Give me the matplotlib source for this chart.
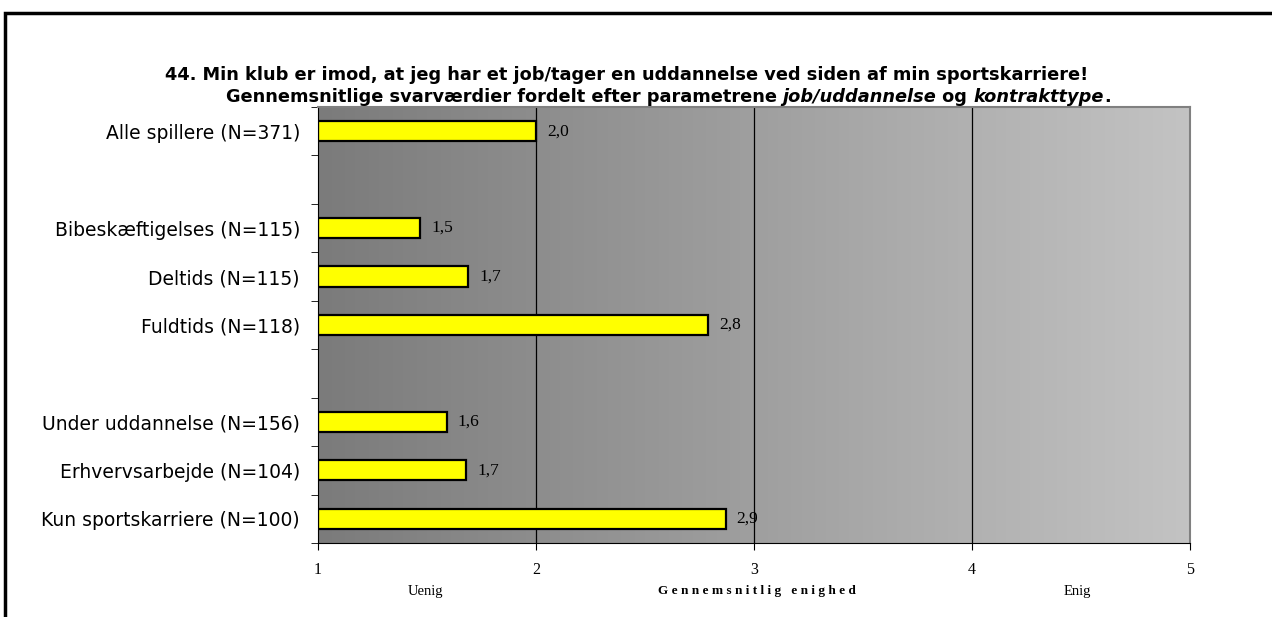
import numpy as np
import matplotlib.pyplot as plt
from matplotlib.patches import Rectangle
from matplotlib.colors import LinearSegmentedColormap

categories = ["Alle spillere (N=371)", "", "Bibeskæftigelses (N=115)", "Deltids (N=115)",
              "Fuldtids (N=118)", "", "Under uddannelse (N=156)", "Erhvervsarbejde (N=104)",
              "Kun sportskarriere (N=100)"]
values = [2.0, None, 1.47, 1.69, 2.79, None, 1.59, 1.68, 2.87]
value_labels = ["2,0", "", "1,5", "1,7", "2,8", "", "1,6", "1,7", "2,9"]
xticks = [1, 2, 3, 4, 5]

fig = plt.figure(figsize=(12.72, 6.17), dpi=100)
ax = fig.add_axes([0.25, 0.12, 0.6855, 0.7066])

# gradient background
grad = np.linspace(0, 1, 256).reshape(1, -1)
cmap = LinearSegmentedColormap.from_list('g', ['#7b7b7b', '#c3c3c3'])
ax.imshow(grad, extent=[1, 5, -0.5, len(categories) - 0.5], aspect='auto', cmap=cmap, zorder=0)
ax.set_xlim(1, 5)
ax.set_ylim(len(categories) - 0.5, -0.5)

for g in [2, 3, 4]:
    ax.axvline(g, color='black', linewidth=0.9, zorder=1)

ypos = np.arange(len(categories))
for y, v, lab in zip(ypos, values, value_labels):
    if v is None:
        continue
    ax.barh(y, v - 1, left=1, height=0.42, color='#ffff00', edgecolor='black',
            linewidth=1.6, zorder=2)
    ax.text(v + 0.05, y, lab, va='center', ha='left', fontsize=12.5,
            family='Liberation Serif', zorder=3)

# frame
for s in ['top', 'right']:
    ax.spines[s].set_color('#808080')
    ax.spines[s].set_linewidth(1.5)
ax.spines['left'].set_color('black')
ax.spines['bottom'].set_color('black')

ax.set_xticks(xticks)
ax.set_xticklabels([str(t) for t in xticks], family='Liberation Serif', fontsize=11.5)
ax.tick_params(axis='x', length=5, pad=9, direction='out')

ax.set_yticks(ypos)
ax.set_yticklabels(categories, family='DejaVu Sans', fontsize=13.5)
ax.tick_params(axis='y', length=0, pad=13)
ax.set_yticks(np.arange(-0.5, len(categories)), minor=True)
ax.tick_params(axis='y', which='minor', length=5, direction='out')

fig.text(425 / 1272, 1 - 591 / 617, "Uenig", ha='center', va='center',
         family='Liberation Serif', fontsize=10.5)
fig.text(757 / 1272, 1 - 591 / 617, "G e n n e m s n i t l i g   e n i g h e d", ha='center', va='center',
         family='Liberation Serif', fontsize=9.5, fontweight='bold')
fig.text(1077 / 1272, 1 - 591 / 617, "Enig", ha='center', va='center',
         family='Liberation Serif', fontsize=10.5)

# title
title_font = dict(family='DejaVu Sans', fontsize=12.8, fontweight='bold')
fig.text(627 / 1272, 1 - 75 / 617, "44. Min klub er imod, at jeg har et job/tager en uddannelse ved siden af min sportskarriere!",
         ha='center', va='center', **title_font)

pieces = [("Gennemsnitlige svarværdier fordelt efter parametrene ", 'normal'),
          ("job/uddannelse", 'italic'), (" og ", 'normal'), ("kontrakttype", 'italic'), (".", 'normal')]
renderer = fig.canvas.get_renderer()
texts = []
for s, st in pieces:
    t = fig.text(0, 1 - 97 / 617, s, ha='left', va='center', style=st, **title_font)
    texts.append(t)
widths = [t.get_window_extent(renderer).width for t in texts]
total = sum(widths)
x0 = 668 - total / 2
for t, w in zip(texts, widths):
    t.set_x(x0 / 1272)
    x0 += w

# figure border
fig.patches.append(Rectangle((5 / 1272, -0.1), 1.2, 1 - 13 / 617 + 0.1, transform=fig.transFigure,
                             fill=False, edgecolor='black', linewidth=2.5))

fig.savefig('out.png', dpi=100)
